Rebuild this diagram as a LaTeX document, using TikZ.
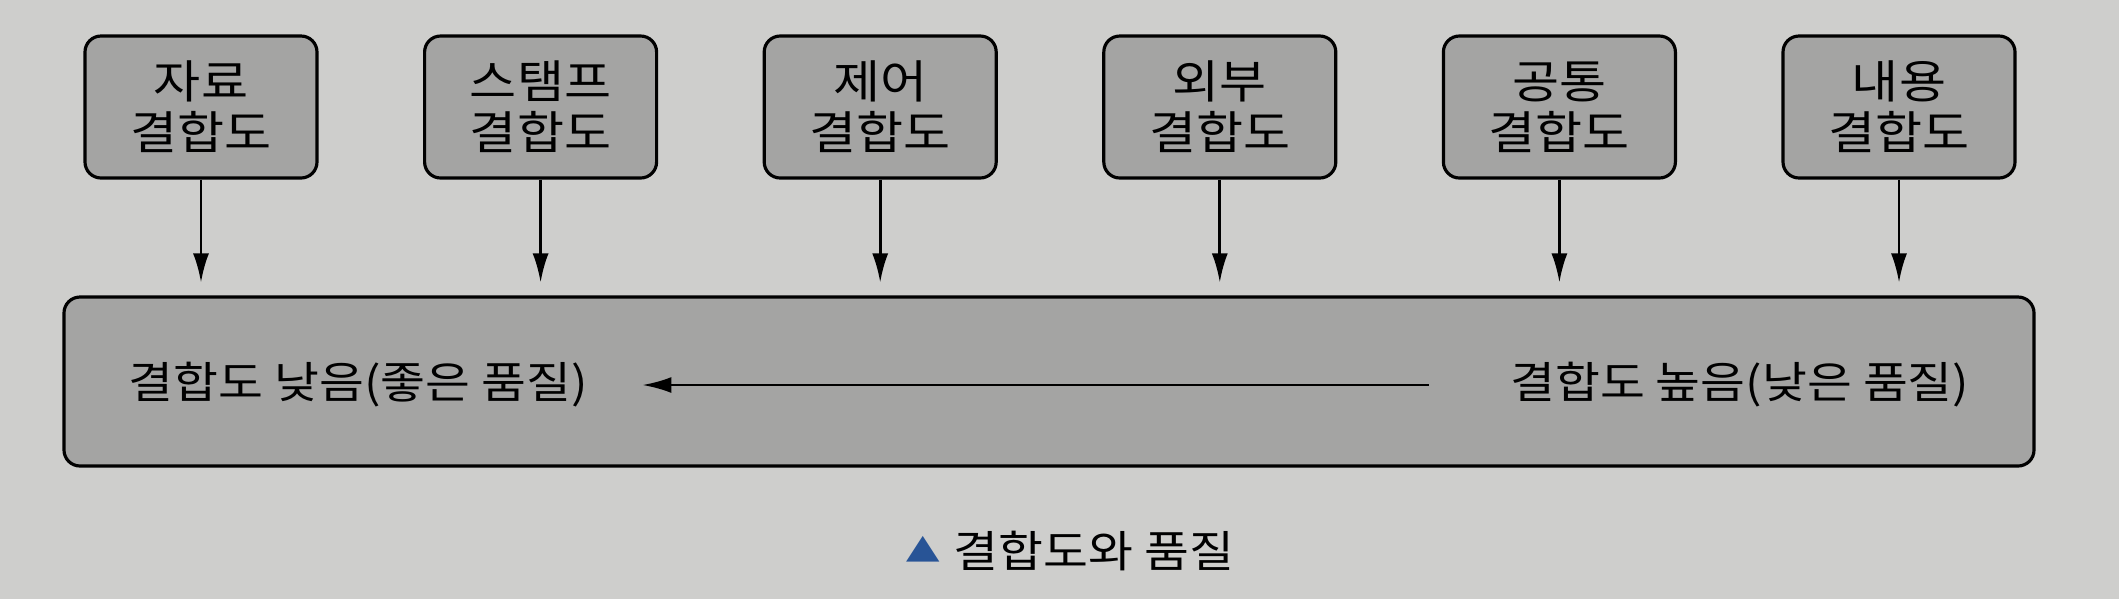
\documentclass[tikz,border=0pt]{standalone}
\usepackage{fontspec}
\setmainfont[FakeStretch=1.12]{Noto Sans CJK KR}
\usetikzlibrary{calc,positioning,arrows.meta}
\definecolor{paper}{RGB}{206,206,204}
\definecolor{boxgray}{RGB}{164,164,163}
\definecolor{markblue}{RGB}{40,84,150}
\newcommand{\couplearrowstyle}{-{Latex[length=2.9mm,width=1.6mm]}}

\begin{document}
\begin{tikzpicture}[
    font=\fontsize{13}{14.5}\selectfont,
    sig/.style={\couplearrowstyle, line width=0.75pt},
    kindbox/.style={draw, fill=boxgray, line width=0.9pt, rounded corners=1.6mm,
      minimum width=23.2mm, minimum height=14.2mm, align=center, inner sep=0pt},
    scalebar/.style={draw, fill=boxgray, line width=0.9pt, rounded corners=1.6mm,
      minimum width=197mm, minimum height=16.9mm, inner sep=0pt},
    bartext/.style={inner sep=0pt, font=\fontsize{12.4}{14}\selectfont}
]
  \def\pitch{3.396}
  \def\gap{0.13}

  % page background
  \fill[paper] (0,0) rectangle (21.19,5.99);
  \useasboundingbox (0,0) rectangle (21.19,5.99);

  % coupling kinds, loosest to tightest
  \foreach \name [count=\i from 0] in {자료,스탬프,제어,외부,공통,내용} {
    \pgfmathsetmacro{\x}{2.01 + \pitch * \i}
    \node[kindbox] (kind-\i) at (\x,4.92) {\name\\결합도};
  }

  % quality scale
  \node[scalebar] (bar) at (10.49,2.175) {};
  \node[bartext, anchor=west] (lo) at (1.28,2.14) {결합도 낮음(좋은 품질)};
  \node[bartext, anchor=east] (hi) at (19.70,2.14) {결합도 높음(낮은 품질)};

  % kinds feed into the scale
  \foreach \i in {0,...,5} {
    \draw[sig] (kind-\i.south) -- ([yshift=\gap cm]kind-\i.south |- bar.north);
  }

  % direction of better quality
  \draw[sig] ([xshift=-8.1mm]hi.west) -- ([xshift=5.4mm]lo.east);

  % caption
  \node[inner sep=0pt, text=markblue, font=\fontsize{9}{10}\selectfont] (mark) at (9.23,0.50) {▲};
  \node[bartext, anchor=west] (caption) at (9.53,0.48) {결합도와 품질};
\end{tikzpicture}
\end{document}
